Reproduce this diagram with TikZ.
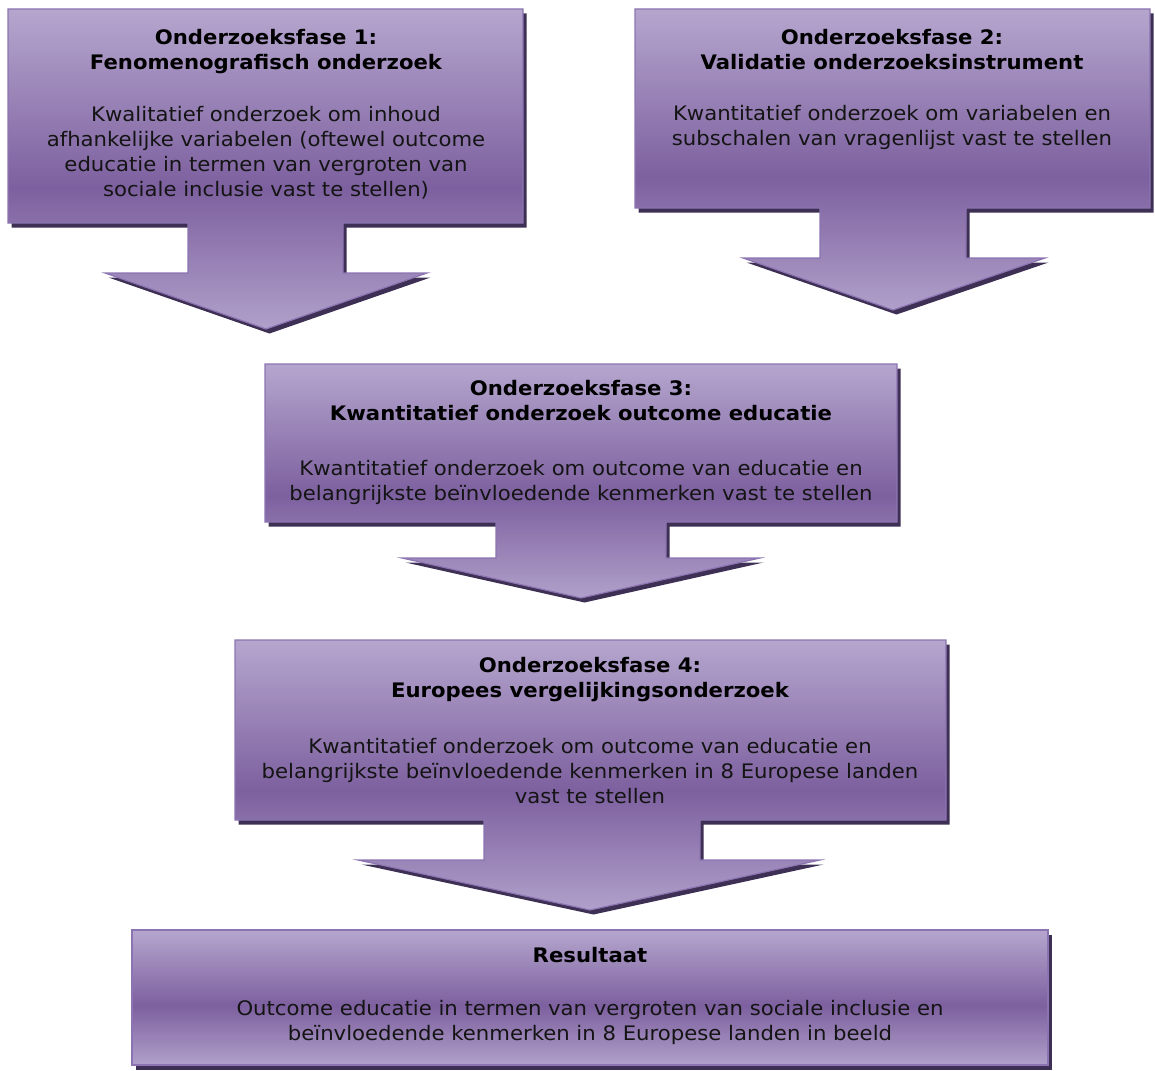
\documentclass[tikz,border=0pt]{standalone}
\usepackage{fontspec}
\setmainfont{DejaVu Sans}[FakeStretch=1.06]
\usetikzlibrary{shadings}
\definecolor{lightT}{RGB}{181,166,206}
\definecolor{lightB}{RGB}{176,160,202}
\definecolor{darkP}{RGB}{125,96,159}
\definecolor{shadowc}{RGB}{62,47,84}
\definecolor{edgec}{RGB}{140,116,178}
\pgfdeclareverticalshading{purp}{100bp}{color(0bp)=(lightB); color(25bp)=(lightB); color(47bp)=(darkP); color(75bp)=(lightT); color(100bp)=(lightT)}
\newcommand\purpshape[1]{%
  \fill[shadowc, shift={(3.5,4.5)}] #1 -- cycle;
  \shade[shading=purp] #1 -- cycle;
  \draw[edgec, line width=0.9pt, line join=miter] #1 -- cycle;
}
\tikzset{
  txt/.style={anchor=north, inner sep=0pt, align=center, text=black!92,
    font=\fontsize{15}{18.75}\selectfont},
  ttl/.style={txt, text=black, font=\fontsize{15}{18.75}\selectfont\bfseries}
}
\begin{document}
\begin{tikzpicture}[x=0.75pt, y=-0.75pt]
\useasboundingbox (0,0) rectangle (1155,1070);
% Box 1
\purpshape{(8,9) -- (523,9) -- (523,223) -- (343,223) -- (343,273) -- (427,273) -- (266,329) -- (105,273) -- (188,273) -- (188,223) -- (8,223)}
% Box 2
\purpshape{(635,9) -- (1150,9) -- (1150,208) -- (966,208) -- (966,258) -- (1045,258) -- (893,310) -- (743,258) -- (820,258) -- (820,208) -- (635,208)}
% Box 3
\purpshape{(265,364) -- (897,364) -- (897,522) -- (666,522) -- (666,558) -- (760,558) -- (581,598) -- (402,558) -- (496,558) -- (496,522) -- (265,522)}
% Box 4
\purpshape{(235,640) -- (946,640) -- (946,820) -- (700,820) -- (700,860) -- (820,860) -- (590,910) -- (358,860) -- (484,860) -- (484,820) -- (235,820)}
% Box 5
\purpshape{(132,930) -- (1048,930) -- (1048,1065) -- (132,1065)}

\node[ttl] (t1) at (266,29) {Onderzoeksfase 1:\\Fenomenografisch onderzoek};
\node[txt] (b1) at (266,106) {Kwalitatief onderzoek om inhoud\\afhankelijke variabelen (oftewel outcome\\educatie in termen van vergroten van\\sociale inclusie vast te stellen)};

\node[ttl] (t2) at (892,29) {Onderzoeksfase 2:\\Validatie onderzoeksinstrument};
\node[txt] (b2) at (892,105) {Kwantitatief onderzoek om variabelen en\\subschalen van vragenlijst vast te stellen};

\node[ttl] (t3) at (581,380) {Onderzoeksfase 3:\\Kwantitatief onderzoek outcome educatie};
\node[txt] (b3) at (581,460) {Kwantitatief onderzoek om outcome van educatie en\\belangrijkste beïnvloedende kenmerken vast te stellen};

\node[ttl] (t4) at (590,657) {Onderzoeksfase 4:\\Europees vergelijkingsonderzoek};
\node[txt] (b4) at (590,738) {Kwantitatief onderzoek om outcome van educatie en\\belangrijkste beïnvloedende kenmerken in 8 Europese landen\\vast te stellen};

\node[ttl] (t5) at (590,947) {Resultaat};
\node[txt] (b5) at (590,1000) {Outcome educatie in termen van vergroten van sociale inclusie en\\beïnvloedende kenmerken in 8 Europese landen in beeld};
\end{tikzpicture}
\end{document}
